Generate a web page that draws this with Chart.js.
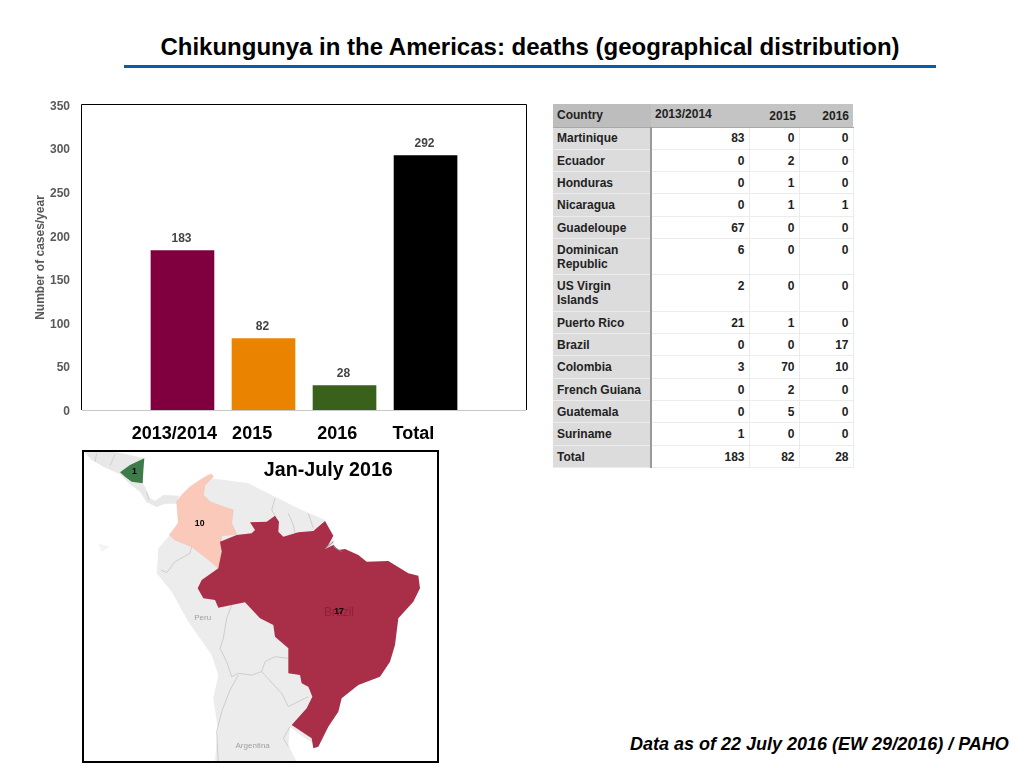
<!DOCTYPE html>
<html>
<head>
<meta charset="utf-8">
<title>Chikungunya in the Americas</title>
<script src="https://cdn.jsdelivr.net/npm/chart.js@4/dist/chart.umd.min.js"></script>
<style>
    html, body { margin: 0; padding: 0; background: #fff; }
    body { width: 1024px; height: 768px; position: relative; overflow: hidden; font-family: "Liberation Sans", Arial, sans-serif; }
    .abs { position: absolute; white-space: nowrap; }
    #title { left: 124px; width: 812px; top: 33px; text-align: center; font-size: 24px; font-weight: bold; color: #000; }
    #rule { left: 124px; top: 65px; width: 812px; height: 3px; background: #0b5ca8; }
    #chartBox { left: 30px; top: 90px; width: 510px; height: 360px; }
    #source { left: 630px; top: 734px; font-size: 18px; font-weight: bold; font-style: italic; color: #000; }
    #map { left: 75px; top: 445px; width: 370px; height: 323px; }
    #deaths { position: absolute; left: 553px; top: 104px; width: 300px; border-collapse: collapse; table-layout: fixed; font-size: 12px; font-weight: bold; color: #222; }
    #deaths td, #deaths th { padding: 4px 4px 0 4px; vertical-align: top; text-align: right; line-height: 14px; box-sizing: border-box; border: 1px solid #ececec; font-weight: bold; }
    #deaths tbody tr:first-child td { padding-top: 3px; }
    #deaths th { background: #c4c4c4; border: none; border-bottom: 1px solid #a8a8a8; padding-top: 5px; }
    #deaths th:nth-child(3) { padding-right: 3px; }
    #deaths .name { text-align: left; background: #dcdcdc; border-right: 2px solid #9a9a9a; border-left: none; }
    #deaths th.name { background: #bdbdbd; border-right: none; padding-top: 4px; }
    #deaths th.first { text-align: left; padding-top: 3px; background: #c4c4c4; }
</style>
</head>
<body>
<div class="abs" id="title">Chikungunya in the Americas: deaths (geographical distribution)</div>
<div class="abs" id="rule"></div>

<div class="abs" id="chartBox"><canvas id="deathsChart" width="510" height="360"></canvas></div>

<table id="deaths">
    <colgroup><col style="width:98px"><col style="width:98px"><col style="width:50px"><col style="width:54px"></colgroup>
    <thead></thead>
    <tbody></tbody>
</table>

<!-- base map, outlines -->
<svg class="abs" id="map" viewBox="0 0 1110 969" font-family="Liberation Sans, Arial, sans-serif">
    <defs><clipPath id="mapClip"><rect x="24" y="18" width="1065" height="933"/></clipPath></defs>
    <g clip-path="url(#mapClip)">
        <!-- central america -->
        <path fill="#e8e8e8" d="M25 18 L110 18 L208 40 L203 115 L212 130 L225 160 L240 168 L265 150 L312 152 L305 176 L270 176 L245 186 L215 172 L195 140 L165 118 L135 88 L85 65 L50 45 Z"/>
        <path fill="none" stroke="#c4c4c4" stroke-width="2" d="M60 50 L65 25 M105 62 L120 28 M215 140 L222 165"/>
        <!-- south america -->
        <path fill="#ececec" d="M400 100 L450 105 L520 115 L600 155 L680 195 L750 225 L780 300 L800 600 L730 905 L690 880 L645 845 L640 900 L665 951 L420 951 L428 850 L415 760 L430 690 L410 630 L340 530 L290 440 L245 385 L250 310 L285 270 L310 230 L310 170 L350 125 Z"/>
        <path fill="none" stroke="#bcbcbc" stroke-width="2" d="M258 375 L275 383 L300 350 L345 325 L350 305
            M470 480 L455 520 L445 580 L435 610 L455 650 L470 695 L490 685 L530 690 L560 680 L570 650 L600 635 L640 640
            M490 690 L465 735 L440 800 L425 860 L430 951
            M560 680 L620 745 L640 785 L700 755
            M640 905 L625 880 L645 845
            M600 160 L590 195 L600 212 M640 205 L655 240 L660 265 M700 205 L715 250"/>
        <path fill="#f4f4f4" d="M70 295 L105 305 L80 320 Z"/>
        <path id="colombia" fill="#fbc9b9" stroke="#e8b3a2" stroke-width="1" d="M410 88 L415 95 L390 120 L385 150 L405 170 L445 185 L475 195 L470 235 L485 268 L440 272 L435 320 L445 330 L430 370 L395 340 L350 305 L300 285 L283 270 L310 235 L305 170 L320 150 L345 125 L375 105 L400 90 Z"/>
        <path id="brazil" fill="#a92f49" d="M525 232 L575 230 L600 212 L612 230 L610 260 L625 275 L670 262 L715 258 L750 228 L775 272 L760 300 L750 312 L775 300 L790 315 L810 312 L850 330 L875 350 L940 348 L1000 385 L1030 392 L1035 430 L1015 470 L970 520 L960 600 L945 650 L915 695 L850 720 L800 760 L790 800 L760 845 L730 905 L715 910 L710 880 L650 840 L695 790 L712 755 L700 725 L680 715 L675 690 L640 685 L640 610 L600 575 L595 540 L555 520 L510 472 L470 480 L430 488 L420 465 L385 460 L368 430 L380 405 L430 370 L440 320 L435 290 L485 270 L530 265 L540 255 Z"/>
        <path fill="none" stroke="#888" stroke-width="3" d="M750 312 L775 290 M775 305 L800 320"/>
        <path id="nicaragua" fill="#3d7b4a" d="M135 82 L165 60 L208 40 L205 75 L203 115 L170 110 L150 95 Z"/>
    </g>
    <text x="383" y="525" font-size="24" fill="#a0a0a0" text-anchor="middle">Peru</text>
    <text x="533" y="908" font-size="24" fill="#a0a0a0" text-anchor="middle">Argentina</text>
    <text x="792" y="514" font-size="36" fill="#8e2038" text-anchor="middle">Brazil</text>
    <text x="178" y="88" font-size="26" font-weight="bold" fill="#000" text-anchor="middle">1</text>
    <text x="374" y="242" font-size="26" font-weight="bold" fill="#000" text-anchor="middle">10</text>
    <text x="792" y="507" font-size="26" font-weight="bold" fill="#000" text-anchor="middle">17</text>
    <rect x="24" y="18" width="1065" height="933" fill="none" stroke="#000" stroke-width="6"/>
    <text x="760" y="93" font-size="59" font-weight="bold" fill="#000" text-anchor="middle">Jan-July 2016</text>
</svg>

<div class="abs" id="source">Data as of 22 July 2016 (EW 29/2016) / PAHO</div>

<script>
// Bar chart data
const categories = ['2013/2014', '2015', '2016', 'Total'];
const deaths = [183, 82, 28, 292];
const barColors = ['#80003f', '#e98300', '#3a611c', '#000000'];
const yTicks = [0, 50, 100, 150, 200, 250, 300, 350];
// labels sit a bit left of the bars in the original
const labelShift = [-0.1, -0.14, -0.09, -0.15];

// Table data
const countries = ['Martinique', 'Ecuador', 'Honduras', 'Nicaragua', 'Guadeloupe', 'Dominican Republic', 'US Virgin Islands', 'Puerto Rico', 'Brazil', 'Colombia', 'French Guiana', 'Guatemala', 'Suriname', 'Total'];
const col2013 = [83, 0, 0, 0, 67, 6, 2, 21, 0, 3, 0, 0, 1, 183];
const col2015 = [0, 2, 1, 1, 0, 0, 0, 1, 0, 70, 2, 5, 0, 82];
const col2016 = [0, 0, 0, 1, 0, 0, 0, 0, 17, 10, 0, 0, 0, 28];
const rowHeights = [22, 22, 22, 23, 22, 36, 37, 22, 22, 23, 22, 22, 23, 22];

// Build the table
document.querySelector('#deaths thead').innerHTML =
    '<tr style="height:23px"><th class="name">Country</th><th class="first">2013/2014</th><th>2015</th><th>2016</th></tr>';
document.querySelector('#deaths tbody').innerHTML = countries.map(function(c, i) {
    return `<tr style="height:${rowHeights[i]}px"><td class="name">${c}</td><td>${col2013[i]}</td><td>${col2015[i]}</td><td>${col2016[i]}</td></tr>`;
}).join('');

// Frame round the plot, black on three sides and grey along the bottom
const framePlugin = {
    id: 'frame',
    afterDraw: function(chart) {
        const ctx = chart.ctx, a = chart.chartArea;
        ctx.save();
        ctx.lineWidth = 1;
        ctx.strokeStyle = '#000';
        ctx.beginPath();
        ctx.moveTo(a.left - 0.5, a.bottom);
        ctx.lineTo(a.left - 0.5, a.top - 0.5);
        ctx.lineTo(a.right + 0.5, a.top - 0.5);
        ctx.lineTo(a.right + 0.5, a.bottom);
        ctx.stroke();
        ctx.strokeStyle = '#c8c8c8';
        ctx.beginPath();
        ctx.moveTo(a.left, a.bottom + 0.5);
        ctx.lineTo(a.right, a.bottom + 0.5);
        ctx.stroke();
        ctx.restore();
    }
};

// Value above each bar
const valueLabels = {
    id: 'valueLabels',
    afterDatasetsDraw: function(chart) {
        const ctx = chart.ctx;
        ctx.save();
        ctx.font = 'bold 12px "Liberation Sans"';
        ctx.fillStyle = '#444';
        ctx.textAlign = 'center';
        ctx.textBaseline = 'middle';
        chart.getDatasetMeta(0).data.forEach(function(bar, i) {
            ctx.fillText(deaths[i], bar.x - 1, bar.y - 12);
        });
        ctx.restore();
    }
};

new Chart(document.getElementById('deathsChart').getContext('2d'), {
    type: 'bar',
    data: {
        datasets: [{
            data: deaths.map(function(v, i) { return { x: i, y: v }; }),
            backgroundColor: barColors,
            barThickness: 63,
            borderWidth: 0
        }]
    },
    plugins: [framePlugin, valueLabels],
    options: {
        responsive: false,
        animation: false,
        layout: { padding: { top: 15, right: 14, left: 0, bottom: 0 } },
        plugins: { legend: { display: false }, tooltip: { enabled: false } },
        scales: {
            x: {
                type: 'linear',
                offset: false,
                min: -1.24,
                max: 4.24,
                grid: { display: false, drawTicks: false },
                border: { display: false },
                afterBuildTicks: function(scale) {
                    scale.ticks = categories.map(function(c, i) { return { value: i + labelShift[i] }; });
                },
                afterFit: function(scale) { scale.height = 40; },
                ticks: {
                    autoSkip: false,
                    maxRotation: 0,
                    padding: 13,
                    color: '#000',
                    font: { family: '"Liberation Sans"', size: 18, weight: 'bold' },
                    callback: function(v, i) { return categories[i]; }
                }
            },
            y: {
                min: 0,
                max: 350,
                grid: { display: false, drawTicks: false },
                border: { display: false },
                afterBuildTicks: function(scale) {
                    scale.ticks = yTicks.map(function(v) { return { value: v }; });
                },
                // no extra room for the top label, the plot edge is fixed at 105
                afterFit: function(scale) { scale.width = 52; scale.paddingTop = 0; scale.paddingBottom = 0; },
                title: {
                    display: true,
                    text: 'Number of cases/year',
                    color: '#595959',
                    padding: { top: 3, bottom: 0 },
                    font: { family: '"Liberation Sans"', size: 12, weight: 'bold' }
                },
                ticks: {
                    padding: 12,
                    labelOffset: 1.5,
                    color: '#595959',
                    font: { family: '"Liberation Sans"', size: 12, weight: 'bold' }
                }
            }
        }
    }
});
</script>
</body>
</html>
